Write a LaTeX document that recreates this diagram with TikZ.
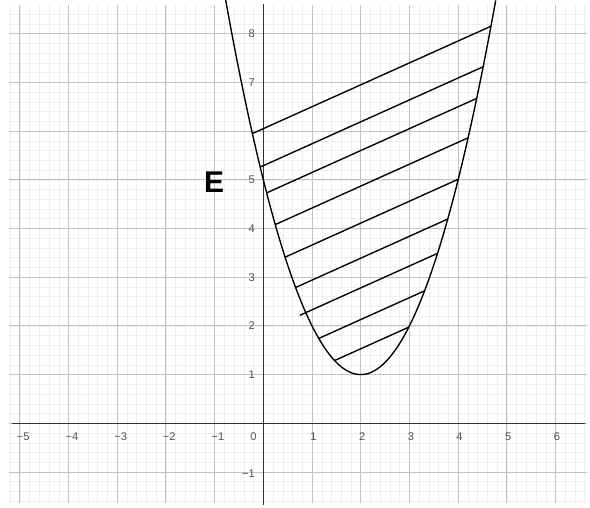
\documentclass[tikz,border=0pt]{standalone}
\usepackage{fontspec}
\setmainfont{Liberation Sans}
\definecolor{minorgrid}{HTML}{EEEEEE}
\definecolor{majorgrid}{HTML}{C2C2C2}
\definecolor{ticklabel}{HTML}{505050}
\tikzset{
  hatchline/.style={line width=0.8pt},
  axisline/.style={line width=0.8pt, black!80},
  ticklbl/.style={font=\fontsize{6.5}{8}\selectfont, text=ticklabel, inner sep=0pt},
}
\begin{document}
\begin{tikzpicture}[scale=1.0]
\useasboundingbox (-5.407,-1.739) rectangle (6.708,8.692);
% grid
\draw[minorgrid, line width=0.3pt, step=0.2] (-5.23,-1.64) grid (6.65,8.59);
\draw[majorgrid, line width=0.5pt, step=1] (-5.23,-1.64) grid (6.65,8.59);

% axes
\coordinate (xmin) at (-5.16,0);
\coordinate (xmax) at (6.6,0);
\coordinate (ymin) at (0,-1.68);
\coordinate (ymax) at (0,8.61);
\draw[axisline] (xmin) -- (xmax);
\draw[axisline] (ymin) -- (ymax);

% tick labels
\foreach \n in {1,...,5}
  \node[ticklbl] (xm\n) at (-\n+0.07,-0.28) {−\n};
\foreach \x in {1,...,6}
  \node[ticklbl] (xp\x) at (\x+0.03,-0.28) {\x};
\node[ticklbl] (origin) at (-0.2,-0.28) {0};
\foreach \y in {1,2,3,4,5,7,8}
  \node[ticklbl, anchor=east] (yp\y) at (-0.17,\y) {\y};
\node[ticklbl, anchor=east] (ym1) at (-0.17,-1.04) {−1};

% parabola
\draw[line width=0.8pt, domain=-0.773:4.773, samples=90, smooth] plot (\x, {(\x-2)^2+1});

% hatching
\foreach \i/\xa/\xb/\c in {1/-0.2245/4.674/6.05, 2/-0.064/4.514/5.29,
    3/0.0685/4.3815/4.70, 4/0.245/4.205/3.97, 5/0.447/4.003/3.21,
    6/0.663/3.787/2.49, 7/0.75/3.578/1.88, 8/1.1385/3.3115/1.23,
    9/1.463/2.987/0.63} {
  \coordinate (ha\i) at (\xa,{0.45*(\xa)+\c});
  \coordinate (hb\i) at (\xb,{0.45*(\xb)+\c});
  \draw[hatchline] (ha\i) -- (hb\i);
}

\node[font=\fontsize{17.5}{20}\selectfont\bfseries] (E) at (-1.01,4.95) {E};
\end{tikzpicture}
\end{document}
